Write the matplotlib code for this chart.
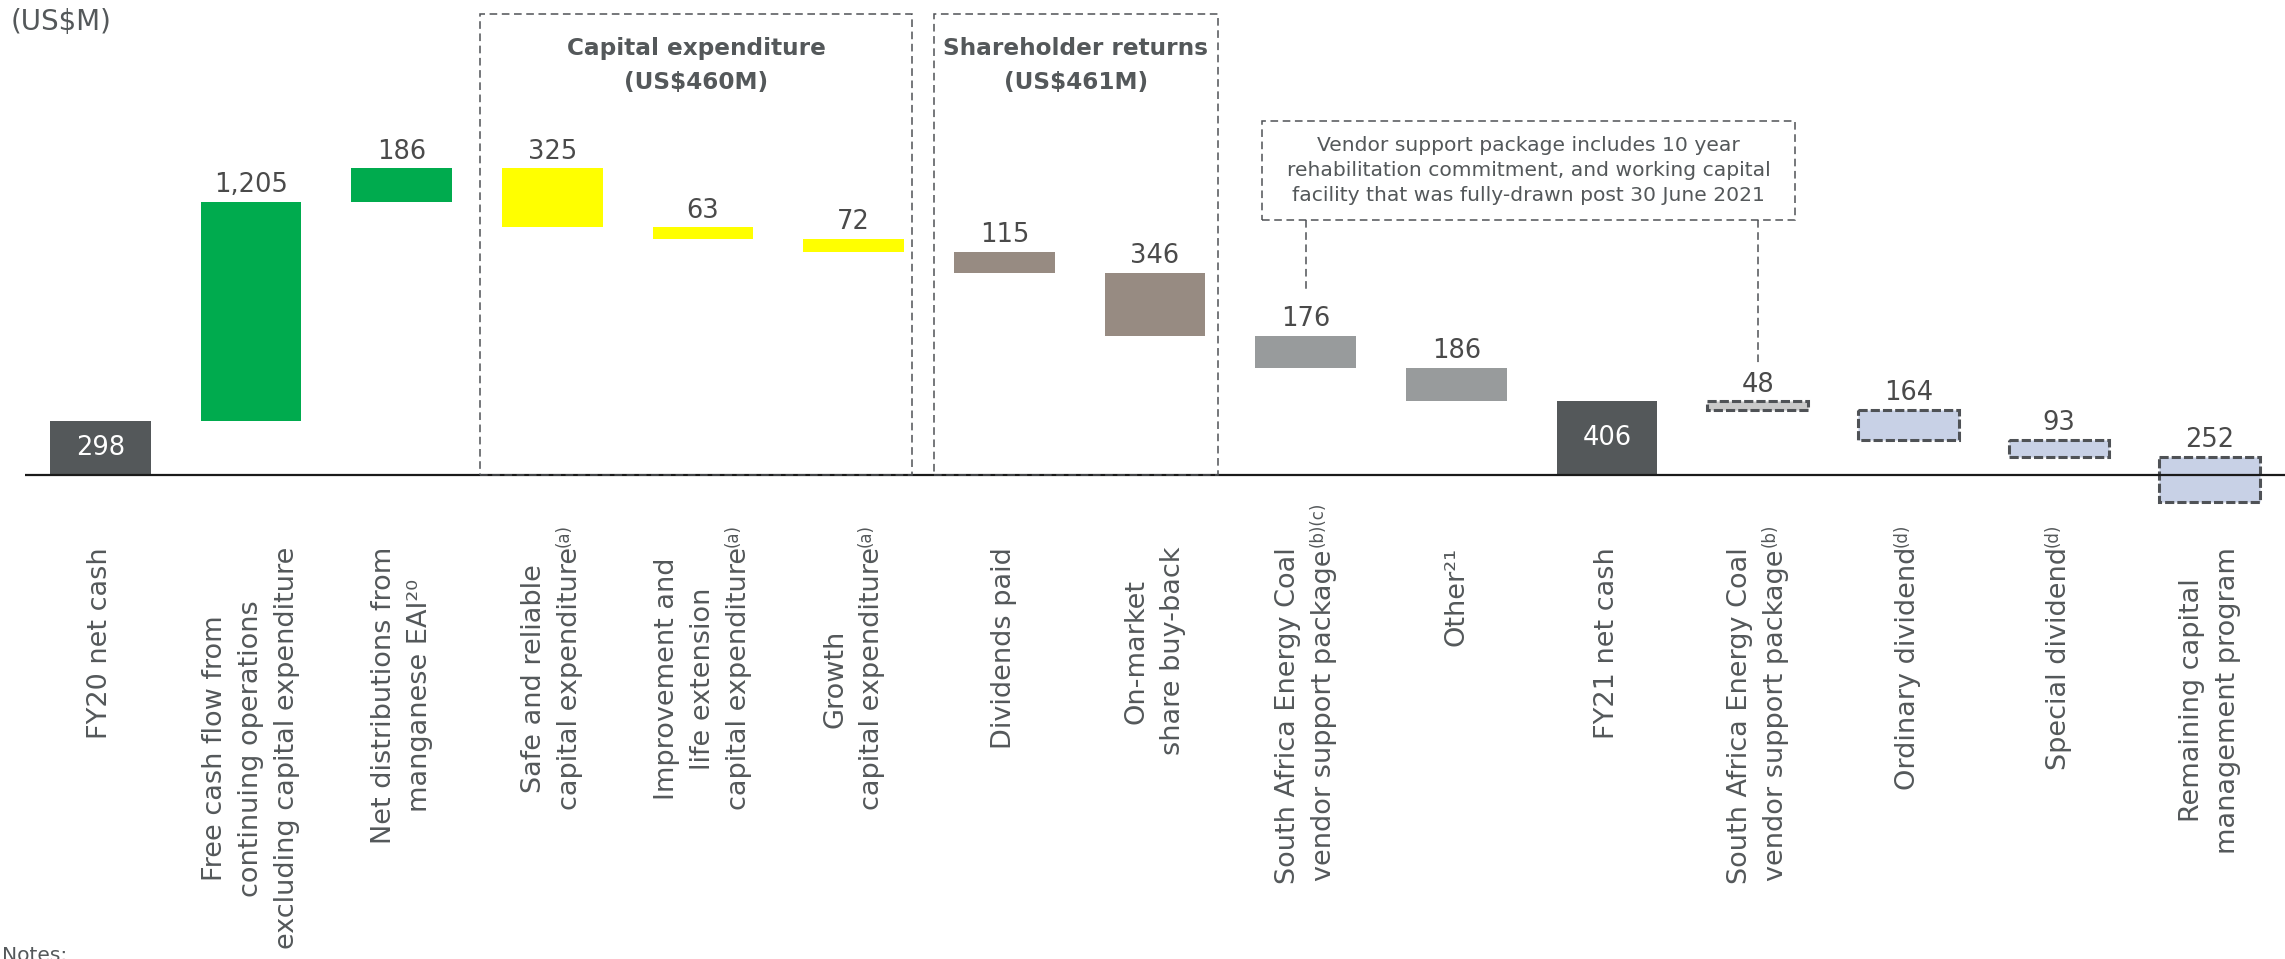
import matplotlib

matplotlib.use("Agg")
import matplotlib.pyplot as plt
from matplotlib.patches import Rectangle
from matplotlib.transforms import IdentityTransform

W, H, DPI = 2285, 959, 100
PX_PER_UNIT = 0.1815  # vertical pixels per US$M
BASE_PX = 475  # pixel row of the zero line
AX_BOTTOM_PX = 520

TEXT = "#54585a"
VALUE = "#4a4a4a"
EDGE = "#4f5256"

# ---- data -----------------------------------------------------------------
labels = [
    "FY20 net cash",
    "Free cash flow from\ncontinuing operations\nexcluding capital expenditure",
    "Net distributions from\nmanganese EAI\u00b2\u2070",
    "Safe and reliable\ncapital expenditure",
    "Improvement and\nlife extension\ncapital expenditure",
    "Growth\ncapital expenditure",
    "Dividends paid",
    "On-market\nshare buy-back",
    "South Africa Energy Coal\nvendor support package",
    "Other\u00b2\u00b9",
    "FY21 net cash",
    "South Africa Energy Coal\nvendor support package",
    "Ordinary dividend",
    "Special dividend",
    "Remaining capital\nmanagement program",
]
footnotes = ["", "", "", "(a)", "(a)", "(a)", "", "", "(b)(c)", "", "", "(b)", "(d)", "(d)", ""]
amounts = [298, 1205, 186, -325, -63, -72, -115, -346, -176, -186, 406, -48, -164, -93, -252]
kinds = [
    "total", "inflow", "inflow", "capex", "capex", "capex", "returns", "returns",
    "other", "other", "total", "committed", "planned", "planned", "planned",
]

group_titles = ["Capital expenditure\n(US$460M)", "Shareholder returns\n(US$461M)"]
note_text = (
    "Vendor support package includes 10 year\n"
    "rehabilitation commitment, and working capital\n"
    "facility that was fully-drawn post 30 June 2021"
)

FILL = {
    "total": "#54585a",
    "inflow": "#00ab4e",
    "capex": "#ffff00",
    "returns": "#978b82",
    "other": "#989b9c",
    "committed": "#c9c9c9",
    "planned": "#c8d1e6",
}
DASHED = {"committed", "planned"}

# ---- waterfall geometry ---------------------------------------------------
bottoms, heights = [], []
running = 0
for amt, kind in zip(amounts, kinds):
    if kind == "total":
        bottoms.append(0)
        heights.append(amt)
        running = amt
    else:
        bottoms.append(running)
        heights.append(amt)
        running += amt

fig = plt.figure(figsize=(W / DPI, H / DPI), dpi=DPI)
ax = fig.add_axes([25 / W, 1 - AX_BOTTOM_PX / H, 1 - 25 / W, AX_BOTTOM_PX / H])
ax.set_xlim(-0.5, 14.5)
ax.set_ylim(-(AX_BOTTOM_PX - BASE_PX) / PX_PER_UNIT, BASE_PX / PX_PER_UNIT)
for s in ax.spines.values():
    s.set_visible(False)
ax.set_yticks([])

x = list(range(len(amounts)))
for i in x:
    kind = kinds[i]
    dashed = kind in DASHED
    ax.bar(
        i, heights[i], bottom=bottoms[i], width=0.667,
        color=FILL[kind],
        edgecolor=EDGE if dashed else "none",
        linewidth=2.2 if dashed else 0,
        linestyle=(0, (3, 1)) if dashed else "-",
        zorder=2,
    )
    top = max(bottoms[i], bottoms[i] + heights[i])
    txt = f"{abs(amounts[i]):,}"
    if kind == "total":
        ax.text(i, heights[i] / 2, txt, ha="center", va="center",
                fontsize=18.5, color="white", zorder=4)
    else:
        ax.annotate(txt, (i, top), xytext=(0, 7), textcoords="offset points",
                    ha="center", va="baseline", fontsize=18.5, color=VALUE)

ax.axhline(0, color="#1a1a1a", lw=1.6, zorder=3)

# ---- group boxes ----------------------------------------------------------
box_spans = [(2.52, 5.39), (5.53, 7.42)]
box_top = (BASE_PX - 14) / PX_PER_UNIT
title_y = (BASE_PX - 37) / PX_PER_UNIT
for (x0, x1), title in zip(box_spans, group_titles):
    ax.add_patch(Rectangle((x0, 0), x1 - x0, box_top, fill=False, ec=EDGE,
                           lw=1.1, ls=(0, (5, 3)), clip_on=False, zorder=3))
    ax.text((x0 + x1) / 2, title_y, title, ha="center", va="top",
            multialignment="center", fontsize=16.7, fontweight="bold",
            linespacing=1.6, color=TEXT)

# ---- vendor note ----------------------------------------------------------
nx0, nx1 = 7.71, 11.25
ny1 = (BASE_PX - 121) / PX_PER_UNIT
ny0 = (BASE_PX - 220) / PX_PER_UNIT
ax.add_patch(Rectangle((nx0, ny0), nx1 - nx0, ny1 - ny0, fill=False, ec=EDGE,
                       lw=1.1, ls=(0, (5, 3)), zorder=3))
ax.text((nx0 + nx1) / 2, (ny0 + ny1) / 2, note_text, ha="center", va="center",
        multialignment="center", fontsize=14.6, linespacing=1.38, color=TEXT)
for xi, end_px in [(8, 292), (11, 363)]:
    ax.plot([xi, xi], [ny0, (BASE_PX - end_px) / PX_PER_UNIT], color=EDGE,
            lw=1.1, ls=(0, (5, 3)), zorder=3)

# ---- category labels ------------------------------------------------------
ax.set_xticks(x, labels)
ax.tick_params(axis="x", length=0, pad=19.4)
for lbl in ax.get_xticklabels():
    lbl.set_rotation(90)
    lbl.set_ha("center")
    lbl.set_va("top")
    lbl.set_multialignment("center")
    lbl.set_linespacing(1.51)
    lbl.set_fontsize(19.5)
    lbl.set_color(TEXT)

# letter footnote markers sit past the end of the last line, like superscripts
fig.canvas.draw()
renderer = fig.canvas.get_renderer()
for lbl, fn in zip(ax.get_xticklabels(), footnotes):
    if not fn:
        continue
    bb = lbl.get_window_extent(renderer)
    fig.text(bb.x1 - 5.6 - 9, bb.y1, fn, transform=IdentityTransform(),
             rotation=90, rotation_mode="anchor", ha="left", va="baseline",
             fontsize=12, color=TEXT)

fig.text(11 / W, 1 - 8 / H, "(US$M)", ha="left", va="top", fontsize=20, color=TEXT)
fig.text(2 / W, 1 - 946 / H, "Notes:", ha="left", va="top", fontsize=14.6, color=TEXT)

fig.savefig("out.png", dpi=DPI)
